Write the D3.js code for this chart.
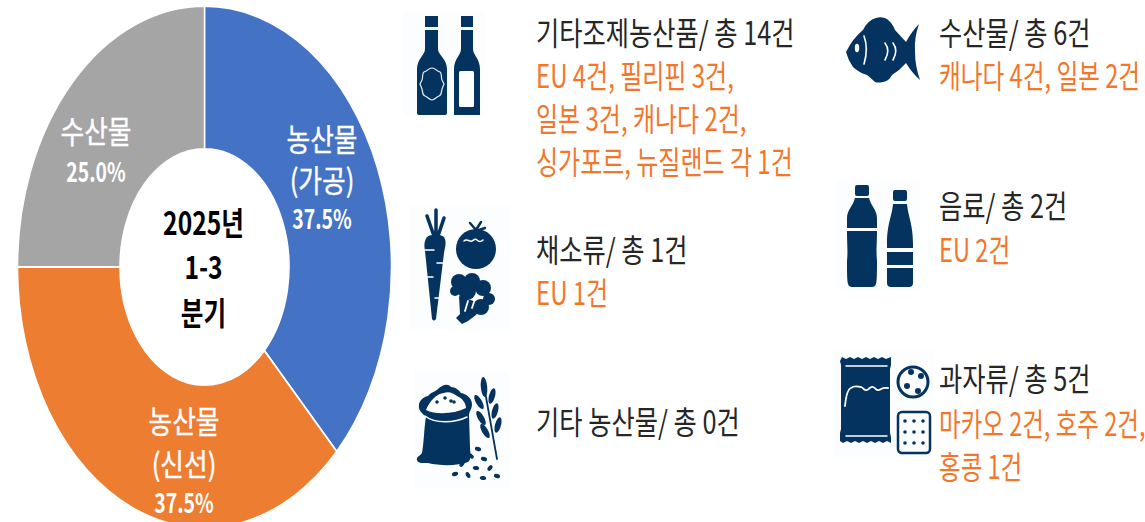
<!DOCTYPE html>
<html>
<head>
<meta charset="utf-8">
<script src="https://cdn.jsdelivr.net/npm/d3@7"></script>
<style>
html, body { margin: 0; padding: 0; background: #fff; overflow: hidden; }
text { font-family: "Noto Sans CJK KR", "Noto Sans", sans-serif; }
</style>
</head>
<body>
<div id="chart"></div>
<script>
const categories = ["농산물 (가공)", "농산물 (신선)", "수산물"];
const shares = [37.5, 37.5, 25.0];
const sliceLabels = [["농산물", "(가공)", "37.5%"], ["농산물", "(신선)", "37.5%"], ["수산물", "25.0%"]];
const centerLabel = ["2025년", "1-3", "분기"];

const itemTitles = ["기타조제농산품/ 총 14건", "채소류/ 총 1건", "기타 농산물/ 총 0건", "수산물/ 총 6건", "음료/ 총 2건", "과자류/ 총 5건"];
const itemDetails = [
    ["EU 4건, 필리핀 3건,", "일본 3건, 캐나다 2건,", "싱가포르, 뉴질랜드 각 1건"],
    ["EU 1건"],
    [],
    ["캐나다 4건, 일본 2건"],
    ["EU 2건"],
    ["마카오 2건, 호주 2건,", "홍콩 1건"]
];

const colors = d3.scaleOrdinal().domain(categories).range(["#4472c4", "#ed7d31", "#a5a5a5"]);
const navy = "#05335f";
const orange = "#f2772a";

// layout
const cx = 204.5, cy = 267, outerX = 187, outerY = 261, innerRatio = 0.452;
const sliceLabelPos = [
    { x: 322, y: [151, 192, 229] },
    { x: 184, y: [433, 476, 513] },
    { x: 96, y: [143, 182] }
];
const centerPos = { x: 203.5, y: [235, 279, 325] };
const itemPos = [
    { x: 536, y: 45, detail: [88, 131, 174], sx: 0.75 },
    { x: 536, y: 262, detail: [305], sx: 0.75 },
    { x: 536, y: 434, detail: [], sx: 0.75 },
    { x: 939, y: 45, detail: [88], sx: 0.74 },
    { x: 939, y: 218, detail: [262], sx: 0.74 },
    { x: 939, y: 391, detail: [436, 479], sx: 0.735 }
];

const svg = d3.select("#chart").append("svg")
    .attr("width", 1145)
    .attr("height", 522)
    .style("display", "block");

function label(parent, x, y, str, size, sx, fill, weight) {
    return parent.append("text")
        .attr("transform", `translate(${x},${y}) scale(${sx},1)`)
        .attr("font-size", size)
        .attr("font-weight", weight || 400)
        .attr("fill", fill)
        .text(str);
}

// donut: the picture is stretched vertically, so the arcs are too
const pie = d3.pie().sort(null).value(d => d);
const arc = d3.arc().innerRadius(outerX * innerRatio).outerRadius(outerX);

svg.append("g")
    .attr("transform", `translate(${cx},${cy}) scale(1,${outerY / outerX})`)
    .selectAll("path")
    .data(pie(shares))
    .enter().append("path")
    .attr("d", arc)
    .attr("fill", (d, i) => colors(categories[i]))
    .attr("stroke", "#fff")
    .attr("stroke-width", 1.5);

sliceLabels.forEach((lines, i) => {
    lines.forEach((str, j) => {
        const isPct = str.includes("%");
        label(svg, sliceLabelPos[i].x, sliceLabelPos[i].y[j], str, isPct ? 27 : 31, isPct ? 0.72 : 0.83, "#fff", isPct ? 700 : 400)
            .attr("text-anchor", "middle")
            .attr("stroke", "#fff")
            .attr("stroke-width", isPct ? 0 : 0.4);
    });
});

centerLabel.forEach((str, i) => {
    label(svg, centerPos.x, centerPos.y[i], str, 32, 0.77, "#000", 700)
        .attr("text-anchor", "middle");
});

itemTitles.forEach((str, i) => {
    label(svg, itemPos[i].x, itemPos[i].y, str, 32, 0.79, "#262626");
    itemDetails[i].forEach((line, j) => {
        label(svg, itemPos[i].x, itemPos[i].detail[j], line, 32, itemPos[i].sx, orange);
    });
});

// icons
const icons = svg.append("g").attr("fill", navy);

function backdrop(x, y, w, h) {
    icons.append("rect").attr("x", x).attr("y", y).attr("width", w).attr("height", h).attr("fill", "#fcfdfe");
}
function shape(d, fill, stroke, sw) {
    return icons.append("path").attr("d", d)
        .attr("fill", fill || navy)
        .attr("stroke", stroke || "none")
        .attr("stroke-width", sw || 0)
        .attr("stroke-linecap", "round");
}
function dot(x, y, rx, ry, rot) {
    return icons.append("ellipse").attr("cx", 0).attr("cy", 0).attr("rx", rx).attr("ry", ry || rx)
        .attr("transform", `translate(${x},${y}) rotate(${rot || 0})`);
}

// sauce bottles
backdrop(403, 11, 82, 104);
shape("M425 16h13v11h-13zM425 30h13v19c0 6 9 10 9 20v44q0 2-2 2h-26q-2 0-2-2v-44c0-10 8-14 8-20z");
shape("M461 16h12v11h-12zM461 30h12v19c0 6 7 10 7 20v46h-26v-46c0-10 7-14 7-20z");
shape("M432 68c4 0 4 3 8 4 2 1 1 6 2 8l2 4-2 5c-1 3 0 6-3 7-3 1-4 4-7 4s-4-3-7-4c-3-1-2-4-3-7l-2-5 2-4c1-2 0-7 2-8 4-1 4-4 8-4z", "none", "#e8edf2", 1.2);
icons.append("rect").attr("x", 459).attr("y", 71).attr("width", 15).attr("height", 36).attr("rx", 1.5).attr("fill", "#fff");

// carrot, tomato, broccoli
backdrop(410, 206, 99, 124);
shape("M427 237c3-3 14-3 17 0 3 5 1 10 0 16l-8 66q-2 3-4 0l-7-68c-1-5-1-10 2-14z");
shape("M434 236l-7-20M436 236v-26M438 236l6-18", navy, navy, 3.5);
shape("M424 250h10M446 263h-9M424 277h9M441 298h-6", "none", "#fff", 1.5);
dot(476, 249, 20, 20);
shape("M476 230l-6-7M476 230l5-8M476 231l9-3", navy, navy, 2.5);
shape("M464 241c3-3 5 1 8 0 2-1 3-3 5-1 2 2 4 2 6 0", "none", "#fff", 1.5);
[[459, 282, 8], [472, 281, 8], [483, 288, 8], [489, 299, 6], [481, 307, 8], [455, 291, 5], [467, 291, 9]].forEach(d => dot(d[0], d[1], d[2]));
shape("M459 296l1 18-4 4 6 6 6-3 8-6 6-11z");
shape("M468 301l-3 10M475 299l-3 9", "none", "#fff", 1.8);

// sack, wheat, seeds
backdrop(414, 371, 95, 117);
shape("M428 396c3-4 7-4 10-7 4-4 10-6 13-2 4 0 8 3 10 6 6 1 11 6 11 11 0 5-3 8-3 11l1 32c0 6 2 12-2 15-10 4-28 4-40 1-4 0-10 1-11-3-1-3 3-4 5-7 2-10 2-25 4-36-4-4-8-7-7-12 0-4 4-8 9-9z");
shape("M426 410c3-8 11-17 18-17 5-2 10 1 13 3 5 2 9 7 9 12-12 6-30 7-40 2z", "#fff");
shape("M425 416c10 8 30 7 42 1", "none", "#fff", 1.5);
[[437, 402], [445, 398], [451, 401], [454, 402]].forEach(d => dot(d[0], d[1], 1.8));
shape("M483 380l14 79", "none", navy, 1.8);
[[484, 387, 3.2, 10, -5], [479, 402, 3, 8, -30], [492, 396, 3, 8, 15], [481, 418, 3, 8, -30], [495, 411, 3, 8, 15], [485, 431, 3, 8, -30], [498, 425, 3, 8, 15]].forEach(d => dot(d[0], d[1], d[2], d[3], d[4]));
[[478, 449, 20], [471, 456, 40], [484, 459, 20], [462, 464, 130], [476, 468, 10], [490, 468, 130], [455, 474, 160], [468, 475, 60], [483, 478, 10], [497, 476, 20]].forEach(d => dot(d[0], d[1], 3.2, 2, d[2]));

// fish
shape("M846 52Q853 38 863 30Q868 20 876 18Q882 16 887 19Q893 24 895 30L906 42Q912 31 919 24Q914 38 915 52Q915 66 920 80Q912 73 906 63Q900 70 892 75Q889 81 883 82Q878 83 875 82Q871 78 867 75Q858 72 853 67Q848 60 846 52Z");
dot(857, 48, 2.2, 4.2).attr("fill", "#fff");
shape("M864 36c3 8 3 18 0 28M885 43c3 4 4 10 0 17M893 43c3 4 4 10 0 17", "none", "#fff", 1.6);

// drink bottles
backdrop(836, 181, 84, 108);
icons.append("rect").attr("x", 855).attr("y", 185).attr("width", 14).attr("height", 11).attr("rx", 2);
shape("M855 198h14c2 8 8 12 8 20v10h-30v-10c0-8 6-12 8-20z");
shape("M847 231h30c0 14-1 20 0 30 0 10 0 20-1 23q-1 3-4 3h-20q-3 0-4-3c-1-3-1-13-1-23 1-10 0-16 0-30z");
icons.append("rect").attr("x", 893).attr("y", 190).attr("width", 14).attr("height", 11).attr("rx", 2);
shape("M893 204h14c1 12 6 20 6 40v4h-26v-4c0-20 5-28 6-40z");
shape("M887 252h26v13h-26zM887 268h26v15q0 4-4 4h-18q-4 0-4-4z");

// snack bag, cookie, cracker
backdrop(833, 350, 100, 108);
shape("M842 357l4 2 4-2 4 2 4-2 4 2 4-2 4 2 4-2 4 2 4-2 4 2 5-2v8l-1 4v64l1 4v6l-4-2-4 2-4-2-4 2-4-2-4 2-4-2-4 2-4-2-4 2-4-2-4 2-3-2v-8l1-4v-64l-1-4z");
shape("M846 366h41M846 436h41", "none", "#fff", 1.5);
shape("M845 406c1-10 3-17 6-18 4-3 7-1 10-1 3 1 3 4 6 3 3-1 3-4 6-3 3 1 3 4 6 3 3-1 3-3 9-2", "none", "#fff", 1.8);
icons.append("circle").attr("cx", 913).attr("cy", 382).attr("r", 15).attr("fill", "none").attr("stroke", navy).attr("stroke-width", 3);
[[911, 372], [907, 386], [921, 376], [918, 391]].forEach(d => dot(d[0], d[1], 3));
icons.append("rect").attr("x", 898).attr("y", 412).attr("width", 32).attr("height", 41).attr("rx", 4).attr("fill", "none").attr("stroke", navy).attr("stroke-width", 2.5);
d3.range(3).forEach(r => d3.range(3).forEach(c => dot(905 + c * 9, 421 + r * 11, 1.8)));
</script>
</body>
</html>
